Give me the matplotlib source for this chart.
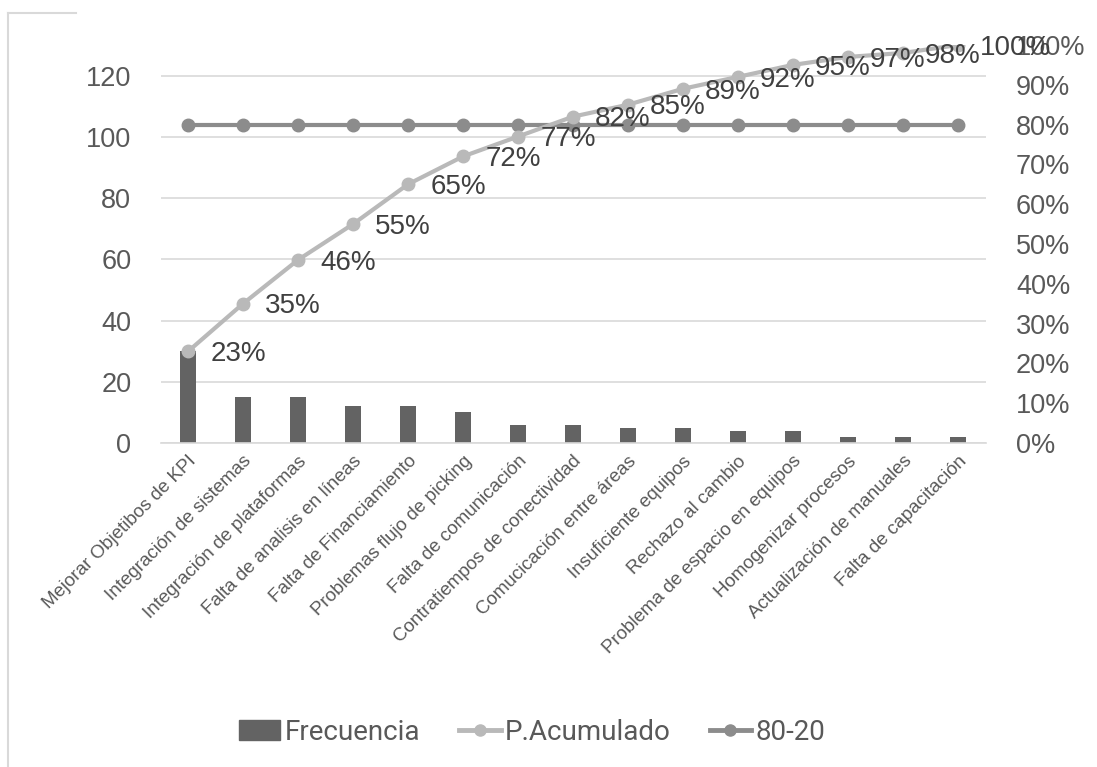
#!/usr/bin/env python3
"""Pareto chart of improvement causes (frequency + cumulative %)."""

import matplotlib
matplotlib.use("Agg")
import matplotlib.pyplot as plt
from matplotlib.lines import Line2D
from matplotlib.ticker import MultipleLocator, PercentFormatter

causes = [
    "Mejorar Objetibos de KPI",
    "Integración de sistemas",
    "Integración de plataformas",
    "Falta de analisis en líneas",
    "Falta de Financiamiento",
    "Problemas flujo de picking",
    "Falta de comunicación",
    "Contratiempos de conectividad",
    "Comucicación entre áreas",
    "Insuficiente equipos",
    "Rechazo al cambio",
    "Problema de espacio en equipos",
    "Homogenizar procesos",
    "Actualización de manuales",
    "Falta de capacitación",
]
frecuencia = [30, 15, 15, 12, 12, 10, 6, 6, 5, 5, 4, 4, 2, 2, 2]
acumulado = [0.23, 0.35, 0.46, 0.55, 0.65, 0.72, 0.77, 0.82, 0.85, 0.89,
             0.92, 0.95, 0.97, 0.98, 1.00]
linea_80_20 = [0.80] * len(causes)

TEXT = "#595959"
plt.rcParams["font.family"] = ["Liberation Sans", "DejaVu Sans"]

fig = plt.figure(figsize=(10.97, 7.67), dpi=100)
ax = fig.add_axes([160.5 / 1097, 1 - 443 / 767, 825 / 1097, 398 / 767])
ax2 = ax.twinx()

x = list(range(len(causes)))
ax.bar(x, frecuencia, width=0.3, color="#636363", zorder=2)
ax.set_xlim(-0.5, len(causes) - 0.5)
ax.set_ylim(0, 130)
ax.yaxis.set_major_locator(MultipleLocator(20))
ax.grid(axis="y", color="#d9d9d9", linewidth=1.2, zorder=0)
ax.set_axisbelow(True)
for s in ("top", "right", "left"):
    ax.spines[s].set_visible(False)
ax.spines["bottom"].set_color("#d9d9d9")
ax.spines["bottom"].set_linewidth(1.2)
ax.tick_params(axis="both", length=0, colors=TEXT)
ax.tick_params(axis="y", labelsize=19.5, pad=21)
ax.set_xticks(x)
ax.set_xticklabels(causes, rotation=45, ha="right", rotation_mode="anchor",
                   fontsize=13.5, color=TEXT)
ax.tick_params(axis="x", pad=7)

ax2.plot(x, linea_80_20, color="#8c8c8c", lw=3, marker="o", ms=9, zorder=3)
ax2.plot(x, acumulado, color="#b9b9b9", lw=3, marker="o", ms=9, zorder=4)
for xi, v in zip(x, acumulado):
    ax2.annotate(f"{v:.0%}", (xi, v), xytext=(16, -2), textcoords="offset points",
                 ha="left", va="center", fontsize=20, color="#404040", zorder=5)
ax2.set_ylim(0, 1.0)
ax2.yaxis.set_major_locator(MultipleLocator(0.1))
ax2.yaxis.set_major_formatter(PercentFormatter(1.0, decimals=0))
for s in ax2.spines.values():
    s.set_visible(False)
ax2.tick_params(axis="y", length=0, labelsize=19.5, colors=TEXT, pad=22)

handles = [
    plt.Rectangle((0, 0), 1, 1, color="#636363"),
    Line2D([], [], color="#b9b9b9", lw=3.5, marker="o", ms=8),
    Line2D([], [], color="#8c8c8c", lw=3.5, marker="o", ms=8),
]
fig.legend(handles, ["Frecuencia", "P.Acumulado", "80-20"], loc="center",
           bbox_to_anchor=(532 / 1097, 1 - 732 / 767), ncol=3, frameon=False,
           labelcolor=TEXT, handlelength=1.5, handletextpad=0.15,
           columnspacing=1.4, prop={"family": "Roboto", "size": 20})

# partial chart-area frame visible in the crop
fig.add_artist(Line2D([8 / 1097, 8 / 1097], [0, 1 - 13 / 767], color="#d9d9d9",
                      lw=1.5, transform=fig.transFigure))
fig.add_artist(Line2D([8 / 1097, 76 / 1097], [1 - 13 / 767, 1 - 13 / 767],
                      color="#d9d9d9", lw=1.5, transform=fig.transFigure))

fig.savefig("out.png", dpi=100)
